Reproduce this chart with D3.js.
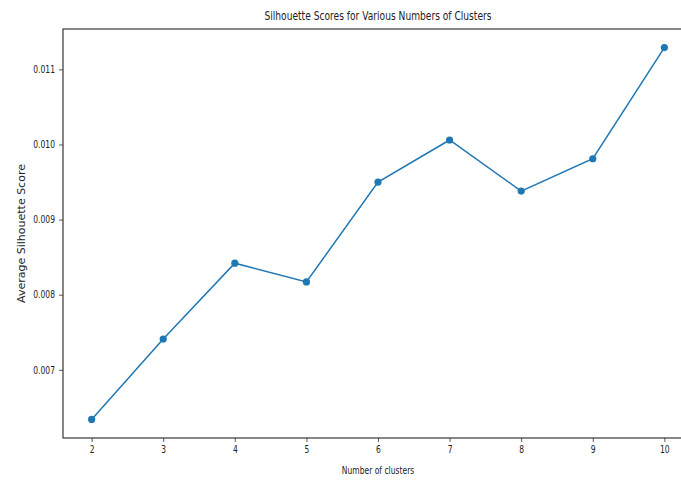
<!DOCTYPE html>
<html>
<head>
<meta charset="utf-8">
<script src="https://cdn.jsdelivr.net/npm/d3@7"></script>
<style>
  body { margin: 0; background: #fff; }
  text { font-family: "DejaVu Sans", sans-serif; fill: #222; }
</style>
</head>
<body>
<div id="chart"></div>
<script>
// data
var clusters = [2, 3, 4, 5, 6, 7, 8, 9, 10];
var scores = [0.00634, 0.00741, 0.00842, 0.00817, 0.00950, 0.01006, 0.00938, 0.00981, 0.01129];
var yTicks = [0.007, 0.008, 0.009, 0.010, 0.011];

var width = 681, height = 481;
// plot area (right edge runs past the window, like the reference crop)
var plotL = 63, plotR = 693, plotT = 29, plotB = 438;
// horizontal text squeeze seen in the reference
var sx = 0.76;

var svg = d3.select("#chart").append("svg")
    .attr("width", width)
    .attr("height", height);

// matplotlib style 5% margins
var xPad = (d3.max(clusters) - d3.min(clusters)) * 0.05;
var yPad = (d3.max(scores) - d3.min(scores)) * 0.05;

var x = d3.scaleLinear()
    .domain([d3.min(clusters) - xPad, d3.max(clusters) + xPad])
    .range([plotL, plotR]);
var y = d3.scaleLinear()
    .domain([d3.min(scores) - yPad, d3.max(scores) + yPad])
    .range([plotB, plotT]);

// axes
var xAxis = d3.axisBottom(x).tickValues(clusters).tickSize(4).tickPadding(4).tickFormat(d3.format("d"));
var yAxis = d3.axisLeft(y).tickValues(yTicks).tickSize(4).tickPadding(4).tickFormat(d3.format(".3f"));

var gx = svg.append("g")
    .attr("transform", "translate(0," + plotB + ")")
    .call(xAxis);
var gy = svg.append("g")
    .attr("transform", "translate(" + plotL + ",0)")
    .call(yAxis);

[gx, gy].forEach(function(g) {
    g.select(".domain").remove();
    g.selectAll(".tick line").attr("stroke", "#333").attr("stroke-width", 0.8);
    g.selectAll(".tick text").attr("font-size", 10).attr("fill", "#222")
        .style("font-family", "'DejaVu Sans', sans-serif");
});
gx.selectAll(".tick text").attr("transform", "scale(" + sx + ",1)");
gy.selectAll(".tick text").attr("x", -8 / sx).attr("transform", "scale(" + sx + ",1)");

// frame
svg.append("rect")
    .attr("x", plotL).attr("y", plotT)
    .attr("width", plotR - plotL).attr("height", plotB - plotT)
    .attr("fill", "none")
    .attr("stroke", "#111")
    .attr("stroke-width", 1);

// line + markers
var line = d3.line()
    .x(function(d, i) { return x(clusters[i]); })
    .y(function(d) { return y(d); });

svg.append("path")
    .datum(scores)
    .attr("d", line)
    .attr("fill", "none")
    .attr("stroke", "#1f77b4")
    .attr("stroke-width", 1.5);

svg.selectAll("circle.pt")
    .data(scores)
    .enter()
    .append("circle")
    .attr("class", "pt")
    .attr("cx", function(d, i) { return x(clusters[i]); })
    .attr("cy", function(d) { return y(d); })
    .attr("r", 3.6)
    .attr("fill", "#1f77b4");

// title and labels
var midX = (plotL + plotR) / 2;
svg.append("text")
    .attr("transform", "translate(" + midX + ",20) scale(" + sx + ",1)")
    .attr("text-anchor", "middle")
    .attr("font-size", 12)
    .text("Silhouette Scores for Various Numbers of Clusters");

svg.append("text")
    .attr("transform", "translate(" + midX + ",474) scale(" + sx + ",1)")
    .attr("text-anchor", "middle")
    .attr("font-size", 10)
    .text("Number of clusters");

svg.append("text")
    .attr("transform", "translate(25," + ((plotT + plotB) / 2) + ") rotate(-90)")
    .attr("text-anchor", "middle")
    .attr("font-size", 11)
    .text("Average Silhouette Score");
</script>
</body>
</html>
